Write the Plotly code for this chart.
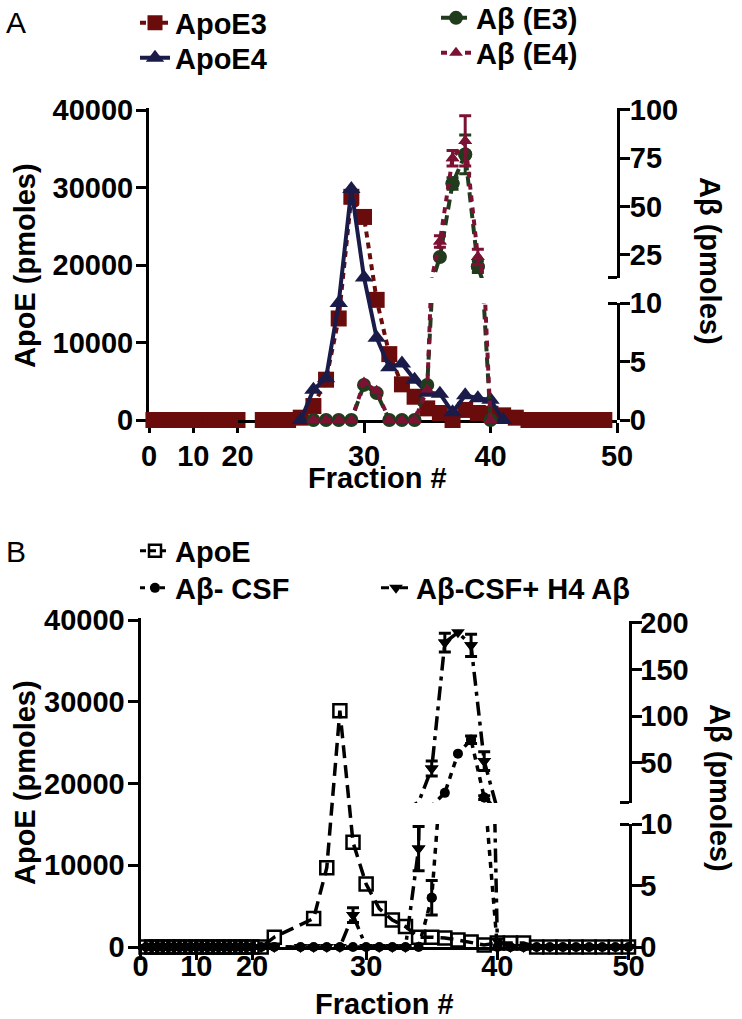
import plotly.graph_objects as go

W, H = 742, 1019
FONT = "Liberation Sans"


def fx(p):
    return p / W


def fy(p):
    return 1 - p / H


# ---------------- Panel A data ----------------
a_apoe3_x = list(range(1, 21)) + [21] + list(range(22, 50))
a_apoe3_y = [0] * 20 + [None] + [0, 0, 0, 300, 1800, 5200, 13100, 28800, 26200, 15500,
                                 8500, 4600, 3000, 1500, 900, 0, 1300, 900, 800, 600,
                                 300, 0, 0, 0, 0, 0, 0, 0]

a_apoe4_x = list(range(25, 42))
a_apoe4_y = [0, 3900, 5400, 15100, 29800, 18400, 10600, 6800, 7300, 5200, 3500, 3400,
             1000, 3200, 2800, 2600, 0]

a_ab_x = list(range(26, 41))
a_abe3_y = [0, 0, 0, 0, 3.0, 2.3, 0, 0, 0, 3.0, 24, 62, 77, 19, 0]
a_abe3_err = [0, 0, 0, 0, 0, 0, 0, 0, 0, 0, 0, 3, 10, 3, 0]
a_abe4_y = [0, 0, 0, 0, 3.2, 2.5, 0, 0, 0, 2.6, 32, 75, 84, 24, 0]
a_abe4_err = [0, 0, 0, 0, 0, 0, 0, 0, 0, 0, 3, 4, 13, 4, 0]

# ---------------- Panel B data ----------------
b_apoe_x = list(range(1, 24)) + list(range(26, 51))
b_apoe_y = [0] * 22 + [1200] + [3500, 9700, 28900, 12800, 7700, 4700, 3300, 2500, 1200,
                                1200, 1100, 850, 600, 250, 500, 500, 500,
                                0, 0, 0, 0, 0, 0, 0, 0]

b_ab_x = list(range(1, 24)) + list(range(25, 51))
b_csf_y = [0] * 23 + [0] * 10 + [4.0, 18, 60, 75, 13, 0] + [0] * 10
b_csf_err = [0] * 23 + [0] * 10 + [1.4, 0, 0, 4, 2, 0] + [0] * 10
b_h4_y = [0] * 23 + [0, 0, 0, 0, 2.6, 0, 0, 0, 0, 8.0, 44, 179, 190, 176, 52, 0.5] + [0] * 10
b_h4_err = [0] * 23 + [0, 0, 0, 0, 0.6, 0, 0, 0, 0, 1.8, 8, 10, 0, 12, 10, 0] + [0] * 10

# tick values
a_left_ticks = [0, 10000, 20000, 30000, 40000]
right_low_ticks = [0, 5, 10]
a_right_up_ticks = [25, 50, 75, 100]
b_right_up_ticks = [50, 100, 150, 200]
x_comp_ticks = [0, 10, 20]
x_main_ticks = [30, 40, 50]

# colours
C_APOE3 = "#6b0c0c"
C_APOE4 = "#1b1b4a"
C_ABE3 = "#203c1d"
C_ABE4 = "#7c1233"

fig = go.Figure()

INF = float("inf")


def add_series(xs, ys, errs, xsegs, ysegs, color, dash, width, symbol, msize,
               mline_w=0):
    for (xa, _, _) in xsegs:
        for (ya, _, _) in ysegs:
            fig.add_trace(go.Scatter(
                x=xs, y=ys, mode="lines", xaxis=xa, yaxis=ya,
                line=dict(color=color, dash=dash, width=width),
                showlegend=False, hoverinfo="skip", connectgaps=False))
    for (xa, xlo, xhi) in xsegs:
        for (ya, ylo, yhi) in ysegs:
            px, py, ex, ey, ee = [], [], [], [], []
            for i, (x, y) in enumerate(zip(xs, ys)):
                if y is None:
                    continue
                if xlo < x <= xhi and ylo < y <= yhi:
                    px.append(x)
                    py.append(y)
                    e = errs[i] if errs else 0
                    if e:
                        ex.append(x)
                        ey.append(y)
                        ee.append(e)
            mk = dict(symbol=symbol, size=msize, color=color,
                      line=dict(width=mline_w, color=color))
            if px:
                fig.add_trace(go.Scatter(
                    x=px, y=py, mode="markers", xaxis=xa, yaxis=ya, marker=mk,
                    cliponaxis=False, showlegend=False, hoverinfo="skip"))
            if ex:
                fig.add_trace(go.Scatter(
                    x=ex, y=ey, mode="markers", xaxis=xa, yaxis=ya, marker=mk,
                    cliponaxis=False, showlegend=False, hoverinfo="skip",
                    error_y=dict(type="data", array=ee, visible=True, color=color,
                                 thickness=3, width=6)))


def add_legend_item(name, legend, color, dash, width, symbol, msize, mline_w=0):
    fig.add_trace(go.Scatter(
        x=[None], y=[None], mode="lines+markers", name=name, legend=legend,
        xaxis="x", yaxis="y",
        line=dict(color=color, dash=dash, width=width),
        marker=dict(symbol=symbol, size=msize, color=color,
                    line=dict(width=mline_w, color=color))))


# ---- Panel A ----
A_X = [("x", -INF, 20), ("x2", 20, INF)]
A_XM = [("x2", 20, INF)]
A_YL = [("y", -INF, INF)]
A_YR = [("y2", -INF, 10), ("y3", 10, INF)]

add_series(a_apoe3_x, a_apoe3_y, None, A_X, A_YL, C_APOE3, "6px,5px", 4, "square", 16)
add_series(a_apoe4_x, a_apoe4_y, None, A_XM, A_YL, C_APOE4, "solid", 4, "triangle-up", 16)
add_series(a_ab_x, a_abe3_y, a_abe3_err, A_XM, A_YR, C_ABE3, "10px,6px", 4, "circle", 14)
add_series(a_ab_x, a_abe4_y, a_abe4_err, A_XM, A_YR, C_ABE4, "6px,6px", 4, "triangle-up", 12)

# ---- Panel B ----
B_X = [("x3", -INF, 20), ("x4", 20, INF)]
B_YL = [("y4", -INF, INF)]
B_YR = [("y5", -INF, 10), ("y6", 10, INF)]

add_series(b_apoe_x, b_apoe_y, None, B_X, B_YL, "black", "13px,7px", 3.5, "square-open", 13, 2.5)
add_series(b_ab_x, b_csf_y, b_csf_err, B_X, B_YR, "black", "6px,6px", 3.5, "circle", 10)
add_series(b_ab_x, b_h4_y, b_h4_err, B_X, B_YR, "black", "14px,6px,4px,6px", 3.5, "triangle-down", 12)

# legends (one item each so rows can be placed like the reference)
add_legend_item("ApoE3", "legend", C_APOE3, "6px,5px", 4, "square", 15)
add_legend_item("ApoE4", "legend2", C_APOE4, "solid", 4, "triangle-up", 16)
add_legend_item("Aβ (E3)", "legend3", C_ABE3, "10px,6px", 4, "circle", 14)
add_legend_item("Aβ (E4)", "legend4", C_ABE4, "6px,6px", 4, "triangle-up", 12)
add_legend_item("ApoE", "legend5", "black", "6px,4px", 3, "square-open", 12, 2.5)
add_legend_item("Aβ- CSF", "legend6", "black", "5px,5px", 3, "circle", 10)
add_legend_item("Aβ-CSF+ H4 Aβ", "legend7", "black", "8px,4px,3px,4px", 3, "triangle-down", 12)

TF = dict(family=FONT, size=29, color="black", weight="bold")
LF = dict(family=FONT, size=29, color="black", weight="bold")

axis_common = dict(showgrid=False, zeroline=False, showline=True, linewidth=3,
                   linecolor="black", ticks="outside", ticklen=10, tickwidth=3,
                   tickcolor="black", tickfont=TF, tickmode="array", fixedrange=True,
                   automargin=False)


def xax(domain, rng, tickvals, anchor, standoff):
    d = dict(axis_common)
    d.update(domain=domain, range=rng, tickvals=tickvals, anchor=anchor,
             layer="below traces", ticklabelstandoff=standoff)
    return d


def yax(domain, rng, tickvals, anchor, side, minor_vals=None, standoff=-3):
    d = dict(axis_common)
    d.update(domain=domain, range=rng, tickvals=tickvals, anchor=anchor, side=side,
             layer="below traces", ticklabelstandoff=standoff, tickformat="d")
    if minor_vals:
        d["minor"] = dict(tickmode="array", tickvals=minor_vals, ticks="inside",
                          ticklen=9, tickwidth=3, tickcolor="black", showgrid=False)
    return d


def leg(text_x, cy):
    return dict(x=fx(text_x - 42), y=fy(cy), xanchor="left", yanchor="middle",
                font=LF, bgcolor="rgba(0,0,0,0)", itemwidth=30)


layout = dict(
    width=W, height=H, autosize=False,
    margin=dict(l=0, r=0, t=0, b=0, pad=0, autoexpand=False),
    paper_bgcolor="white", plot_bgcolor="rgba(0,0,0,0)",
    showlegend=True,
    # Panel A axes
    xaxis=xax([fx(149), fx(237.5)], [0, 20], x_comp_ticks, "y", -2),
    xaxis2=xax([fx(237.5), fx(617)], [20, 50], x_main_ticks, "y", -2),
    yaxis=yax([fy(420), fy(108)], [0, 40258], a_left_ticks, "x", "left"),
    yaxis2=yax([fy(420), fy(303)], [0, 10], right_low_ticks, "x2", "right",
               minor_vals=[9.98], standoff=-6),
    yaxis3=yax([fy(278), fy(108)], [13.1, 101.03], a_right_up_ticks, "x2", "right",
               minor_vals=[13.15], standoff=-6),
    # Panel B axes
    xaxis3=xax([fx(140.5), fx(252)], [0, 20], x_comp_ticks, "y4", -19),
    xaxis4=xax([fx(252), fx(628.5)], [21.3, 50], x_main_ticks, "y4", -19),
    yaxis4=yax([fy(947), fy(618)], [0, 40245], a_left_ticks, "x3", "left"),
    yaxis5=yax([fy(947), fy(824)], [0, 10], right_low_ticks, "x4", "right",
               minor_vals=[9.98], standoff=-7),
    yaxis6=yax([fy(803), fy(621)], [7.14, 202.1], b_right_up_ticks, "x4", "right",
               minor_vals=[7.2], standoff=-7),
    legend=leg(177, 23),
    legend2=leg(177, 58),
    legend3=leg(478, 18),
    legend4=leg(478, 53),
    legend5=leg(177, 551),
    legend6=leg(177, 588),
    legend7=leg(418, 588),
)

TITLE_F = dict(family=FONT, size=29, color="black", weight="bold")
annotations = [
    dict(text="A", x=fx(4), y=fy(23), xanchor="left", yanchor="middle",
         font=dict(family=FONT, size=30, color="black")),
    dict(text="B", x=fx(4), y=fy(551), xanchor="left", yanchor="middle",
         font=dict(family=FONT, size=30, color="black")),
    dict(text="ApoE (pmoles)", x=fx(25), y=fy(266), textangle=-90, font=TITLE_F),
    dict(text="Aβ (pmoles)", x=fx(710), y=fy(261), textangle=90, font=TITLE_F),
    dict(text="Fraction #", x=fx(377), y=fy(478), font=TITLE_F),
    dict(text="ApoE (pmoles)", x=fx(25), y=fy(783), textangle=-90, font=TITLE_F),
    dict(text="Aβ (pmoles)", x=fx(720), y=fy(788), textangle=90, font=TITLE_F),
    dict(text="Fraction #", x=fx(384), y=fy(1004), font=TITLE_F),
]
for a in annotations:
    a.update(xref="paper", yref="paper", showarrow=False)
    a.setdefault("xanchor", "center")
    a.setdefault("yanchor", "middle")
layout["annotations"] = annotations

fig.update_layout(**layout)
fig.write_html("out.html",
               config={"displayModeBar": False},
               post_script="document.body.style.margin='0px';"
                           "document.body.style.overflow='hidden';")
